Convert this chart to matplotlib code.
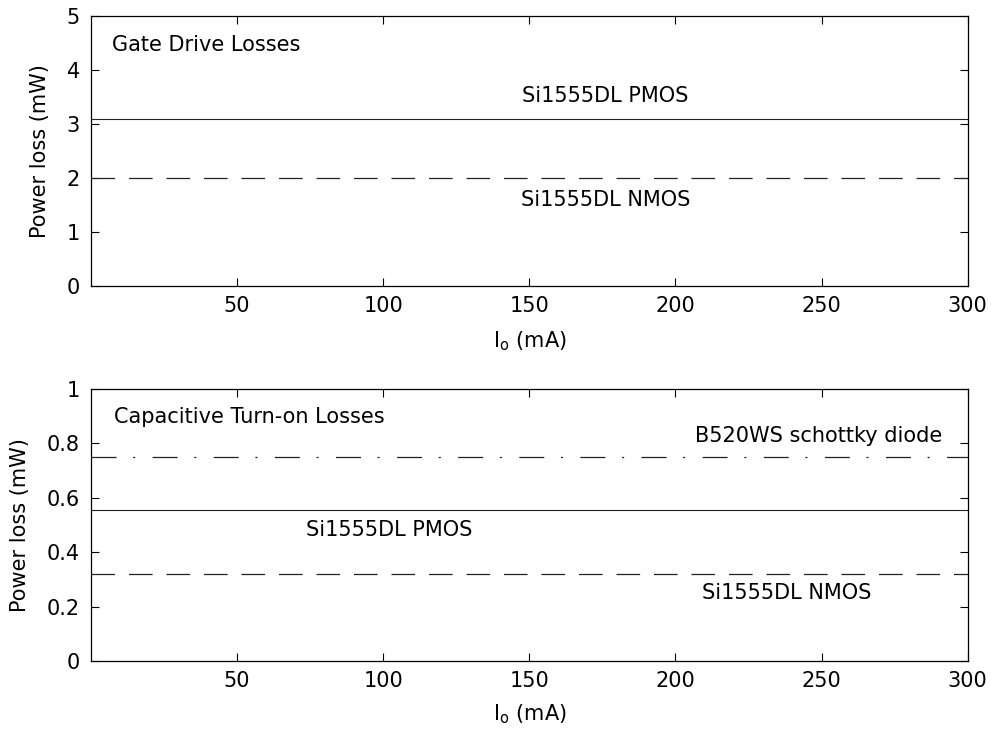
import numpy as np
import matplotlib
matplotlib.use('Agg')
import matplotlib.pyplot as plt

plt.rcParams['font.family'] = ['DejaVu Sans']
plt.rcParams['mathtext.fontset'] = 'dejavusans'
plt.rcParams['lines.scale_dashes'] = False

# data
io_range = [0, 300]
x_ticks = [50, 100, 150, 200, 250, 300]

gate_pmos = 3.08
gate_nmos = 2.0
gate_yticks = [0, 1, 2, 3, 4, 5]

cap_diode = 0.75
cap_pmos = 0.556
cap_nmos = 0.32
cap_yticks = [0, 0.2, 0.4, 0.6, 0.8, 1]
cap_yticklabels = ['0', '0.2', '0.4', '0.6', '0.8', '1']

fs = 15
dash = (0, (17, 10))
dashdot = (0, (18, 12, 1.5, 12.5))

fig = plt.figure(figsize=(9.91, 7.34), dpi=100)
ax1 = fig.add_axes([0.0918, 0.6104, 0.8847, 0.3682])
ax2 = fig.add_axes([0.0918, 0.0990, 0.8847, 0.3715])

x = np.array(io_range)

# top: gate drive losses
ax1.plot(x, [gate_pmos] * 2, color='#222222', lw=0.8, ls='-')
ax1.plot(x, [gate_nmos] * 2, color='#222222', lw=0.9, ls=dash)
ax1.set_ylim(0, 5)
ax1.set_yticks(gate_yticks)
ax1.text(7.2, 4.46, 'Gate Drive Losses', fontsize=fs, ha='left', va='center')
ax1.text(176, 3.51, 'Si1555DL PMOS', fontsize=fs, ha='center', va='center')
ax1.text(176, 1.59, 'Si1555DL NMOS', fontsize=fs, ha='center', va='center')

# bottom: capacitive turn-on losses
ax2.plot(x, [cap_diode] * 2, color='#222222', lw=0.9, ls=dashdot)
ax2.plot(x, [cap_pmos] * 2, color='#222222', lw=0.8, ls='-')
ax2.plot(x, [cap_nmos] * 2, color='#222222', lw=0.9, ls=dash)
ax2.set_ylim(0, 1)
ax2.set_yticks(cap_yticks)
ax2.set_yticklabels(cap_yticklabels)
ax2.text(8, 0.895, 'Capacitive Turn-on Losses', fontsize=fs, ha='left', va='center')
ax2.text(249, 0.828, 'B520WS schottky diode', fontsize=fs, ha='center', va='center')
ax2.text(102, 0.483, 'Si1555DL PMOS', fontsize=fs, ha='center', va='center')
ax2.text(238, 0.249, 'Si1555DL NMOS', fontsize=fs, ha='center', va='center')

for ax in (ax1, ax2):
    ax.set_xlim(*io_range)
    ax.set_xticks(x_ticks)
    ax.tick_params(direction='in', length=6, width=0.8, labelsize=fs,
                   top=True, right=True, pad=7)
    ax.tick_params(axis='y', pad=8)
    for s in ax.spines.values():
        s.set_linewidth(0.9)
    ax.set_ylabel('Power loss (mW)', fontsize=fs, labelpad=12)

ax1.set_xlabel(r'I$_{\rm o}$ (mA)', fontsize=fs, labelpad=10)
ax2.set_xlabel(r'I$_{\rm o}$ (mA)', fontsize=fs, labelpad=8)

fig.savefig('out.png', dpi=100)
